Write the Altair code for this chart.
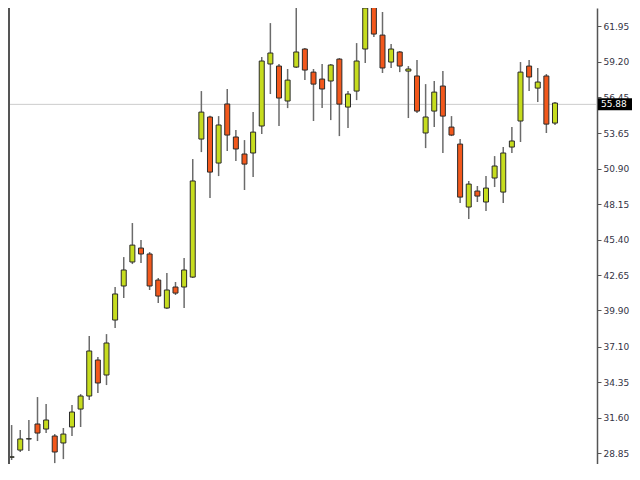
import altair as alt
import pandas as pd

# OHLC values (oldest -> newest)
opens = [25.98, 28.52, 29.08, 29.94, 31.10, 30.71, 30.17, 29.63, 30.87, 32.26,
         33.27, 36.06, 34.90, 39.16, 41.80, 43.66, 44.74, 44.28, 42.26, 40.09,
         41.72, 41.72, 42.49, 53.19, 54.90, 51.33, 55.91, 53.35, 52.03, 52.11,
         54.20, 59.01, 58.85, 56.14, 58.77, 60.17, 58.38, 57.84, 57.69, 59.39,
         55.67, 56.91, 60.17, 63.89, 61.25, 59.16, 59.94, 58.46, 58.08, 53.66,
         55.36, 57.30, 54.12, 52.80, 47.92, 49.16, 48.31, 50.17, 49.08, 52.57,
         54.59, 58.85, 57.14, 58.08, 54.43]
highs = [29.24, 31.02, 30.63, 31.41, 33.19, 32.65, 30.32, 30.79, 32.57, 33.42,
         37.92, 36.29, 38.07, 41.72, 44.04, 46.68, 45.36, 44.43, 42.42, 42.80,
         42.11, 43.97, 51.64, 56.91, 55.00, 54.97, 57.07, 53.89, 53.11, 55.28,
         59.55, 62.18, 59.01, 58.62, 63.42, 60.25, 58.62, 59.01, 59.01, 59.47,
         56.91, 60.63, 63.73, 64.12, 63.04, 60.56, 60.01, 58.85, 59.32, 57.45,
         57.69, 58.46, 54.97, 53.19, 49.94, 49.55, 50.32, 51.87, 52.57, 54.12,
         59.16, 59.32, 58.70, 58.23, 56.06]
lows = [25.59, 28.31, 28.93, 29.01, 29.78, 30.40, 28.07, 28.38, 30.17, 30.87,
        32.96, 33.50, 34.12, 38.54, 40.87, 43.50, 43.58, 41.49, 40.48, 40.01,
        41.10, 40.09, 42.42, 52.18, 48.62, 50.32, 52.26, 51.49, 49.24, 50.25,
        53.58, 56.68, 54.20, 55.59, 58.70, 57.76, 54.59, 55.59, 54.66, 53.42,
        54.04, 56.21, 59.08, 61.10, 58.31, 58.70, 58.38, 54.82, 55.21, 52.49,
        54.12, 52.11, 53.42, 48.23, 46.99, 48.31, 47.61, 49.47, 48.23, 52.11,
        52.96, 56.91, 56.06, 53.66, 54.28]
closes = [27.77, 28.56, 29.94, 29.96, 30.40, 31.41, 28.93, 30.32, 32.03, 33.27,
          36.76, 34.28, 37.38, 41.18, 43.04, 44.97, 44.28, 41.80, 41.02, 41.49,
          41.25, 43.04, 49.94, 55.28, 50.63, 54.28, 53.50, 52.42, 51.25, 53.73,
          59.24, 59.86, 56.37, 57.76, 59.94, 58.54, 57.45, 57.07, 58.93, 55.90,
          56.68, 59.24, 63.35, 61.33, 58.70, 60.17, 58.85, 58.62, 55.36, 54.90,
          56.83, 54.97, 53.50, 48.69, 49.70, 48.77, 49.39, 51.10, 52.11, 53.04,
          58.38, 58.00, 57.61, 54.35, 55.98]

tick_values = [28.85, 31.60, 34.35, 37.10, 39.90, 42.65, 45.40, 48.15,
               50.90, 53.65, 56.45, 59.20, 61.95]
current_price = 55.88

GREEN = "#c6dc1e"
ORANGE = "#f2581c"

df = pd.DataFrame({
    "i": list(range(len(opens))),
    "open": opens, "high": highs, "low": lows, "close": closes,
})
df["dir"] = ["up" if c >= o else "down" for o, c in zip(opens, closes)]
price_df = pd.DataFrame({"p": [current_price]})

W, H = 589, 456

xscale = alt.Scale(domain=[0.58, 68.87], nice=False, zero=False, padding=0)
yscale = alt.Scale(domain=[28.00, 63.35], nice=False, zero=False)
yaxis = alt.Axis(orient="right", values=tick_values, format=".2f", title=None,
                 grid=False, domainColor="#555555", domainWidth=1.5,
                 tickColor="#555555", tickSize=4, tickWidth=1,
                 labelFont="DejaVu Sans", labelFontSize=9, labelColor="#333344",
                 labelPadding=2)


def Y(field):
    return alt.Y(field, scale=yscale, axis=yaxis, title=None)


X = alt.X("i:Q", scale=xscale, axis=None)

hline = alt.Chart(price_df).mark_rule(color="#cccccc", strokeWidth=1).encode(
    y=Y("p:Q"), x=alt.value(0), x2=alt.value(W))

wick = alt.Chart(df).mark_rule(color="#6b6b6b", strokeWidth=1.5, clip=True).encode(
    x=X, y=Y("low:Q"), y2="high:Q")

body = alt.Chart(df).mark_bar(size=5, stroke="#2b2b2b", strokeWidth=1, clip=True).encode(
    x=X, y=Y("open:Q"), y2="close:Q",
    fill=alt.Fill("dir:N", scale=alt.Scale(domain=["up", "down"], range=[GREEN, ORANGE]),
                  legend=None))

box = alt.Chart(price_df).mark_rect(color="black", yOffset=-6, y2Offset=6).encode(
    y=Y("p:Q"), y2="p:Q", x=alt.value(590), x2=alt.value(624))

label = alt.Chart(price_df).mark_text(color="white", font="DejaVu Sans", fontSize=9,
                                      align="left", baseline="middle").encode(
    y=Y("p:Q"), x=alt.value(593), text=alt.Text("p:Q", format=".2f"))

border = alt.Chart(price_df).mark_rule(color="#555555", strokeWidth=2).encode(
    x=alt.value(1), y=alt.value(0), y2=alt.value(H))

chart = alt.layer(hline, wick, body, box, label, border).properties(
    width=W, height=H,
    padding={"left": 0, "top": 0, "right": 35, "bottom": 0},
    autosize=alt.AutoSizeParams(type="none"),
    background="white",
).configure_view(stroke=None)

chart.save("out.html", embed_options={"renderer": "svg", "actions": False})
